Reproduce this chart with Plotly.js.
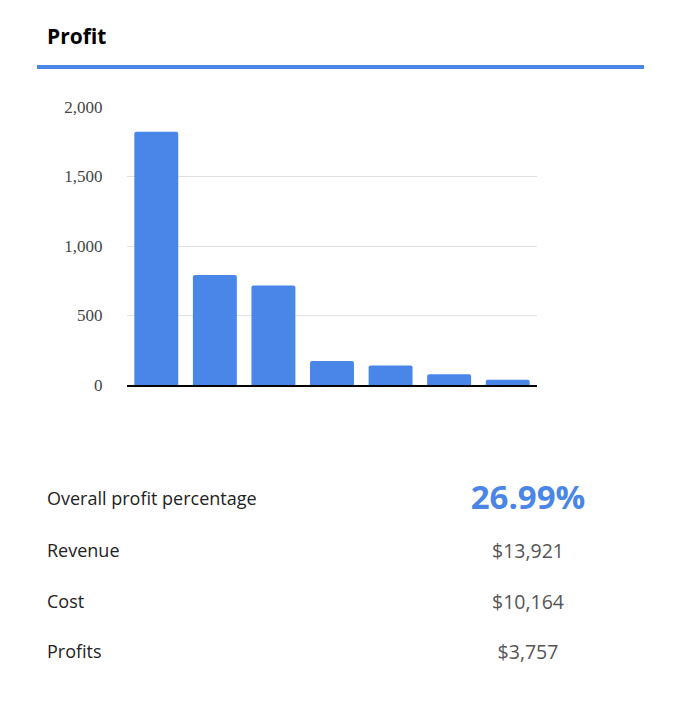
<!DOCTYPE html>
<html>
<head>
<meta charset="utf-8">
<script src="https://cdn.plot.ly/plotly-3.0.1.min.js"></script>
<style>
  body { margin: 0; background: #fff; font-family: "Open Sans", sans-serif; }
  #wrap { position: relative; width: 676px; height: 720px; }
  #profit-gph { position: absolute; left: 0; top: 0; width: 676px; height: 720px; }
  .title { position: absolute; left: 47px; top: 22px; font-size: 21px; font-weight: 700; color: #000; }
  .rule { position: absolute; left: 37px; top: 65px; width: 607px; height: 4px; background: #4a86e8; }
  .row { position: absolute; left: 47px; width: 600px; font-size: 18px; color: #222; }
  .row .val { position: absolute; left: 381px; width: 200px; text-align: center; color: #555; font-size: 19.5px; top: -1px; }
  .row .big { color: #4a86e8; font-weight: 700; font-size: 33px; top: -12px; }
</style>
</head>
<body>
<div id="wrap">
  <div id="profit-gph"></div>
  <div class="title">Profit</div>
  <div class="rule"></div>
  <div id="summary"></div>
</div>
<script>
  // valores
  var categorias = ['A', 'B', 'C', 'D', 'E', 'F', 'G']
  var lucros = [1822, 792, 716, 172, 141, 77, 37]
  var rotulos = ['Overall profit percentage', 'Revenue', 'Cost', 'Profits']
  var valores = ['26.99%', '$13,921', '$10,164', '$3,757']
  var tickVals = [0, 500, 1000, 1500, 2000]

  // tabela de resumo abaixo do grafico
  var tops = [486, 538, 589, 639]
  var html = ''
  for (var i = 0; i < rotulos.length; i++) {
    html += '<div class="row" style="top:' + tops[i] + 'px">' + rotulos[i] +
      '<span class="val' + (i == 0 ? ' big' : '') + '">' + valores[i] + '</span></div>'
  }
  document.getElementById('summary').innerHTML = html

  var trace = {
    x: categorias,
    y: lucros,
    type: 'bar',
    marker: { color: '#4a86e8', cornerradius: 2 },
    hoverinfo: 'y'
  }

  var layout = {
    width: 676,
    height: 720,
    margin: { l: 127, r: 139, t: 107, b: 335 },
    paper_bgcolor: 'rgba(0,0,0,0)',
    plot_bgcolor: 'rgba(0,0,0,0)',
    bargap: 0.25,
    showlegend: false,
    xaxis: {
      showticklabels: false,
      showgrid: false,
      zeroline: false,
      showline: true,
      linecolor: '#000',
      linewidth: 1.5,
      fixedrange: true
    },
    yaxis: {
      range: [0, 2000],
      tickvals: tickVals,
      tickformat: ',d',
      ticks: 'outside',
      ticklen: 20,
      tickcolor: 'rgba(0,0,0,0)',
      gridcolor: '#e0e0e0',
      gridwidth: 1,
      zeroline: false,
      tickfont: { family: 'Liberation Serif, serif', size: 17, color: '#444' },
      fixedrange: true
    }
  }

  Plotly.newPlot('profit-gph', [trace], layout, { displayModeBar: false, staticPlot: true })
</script>
</body>
</html>
